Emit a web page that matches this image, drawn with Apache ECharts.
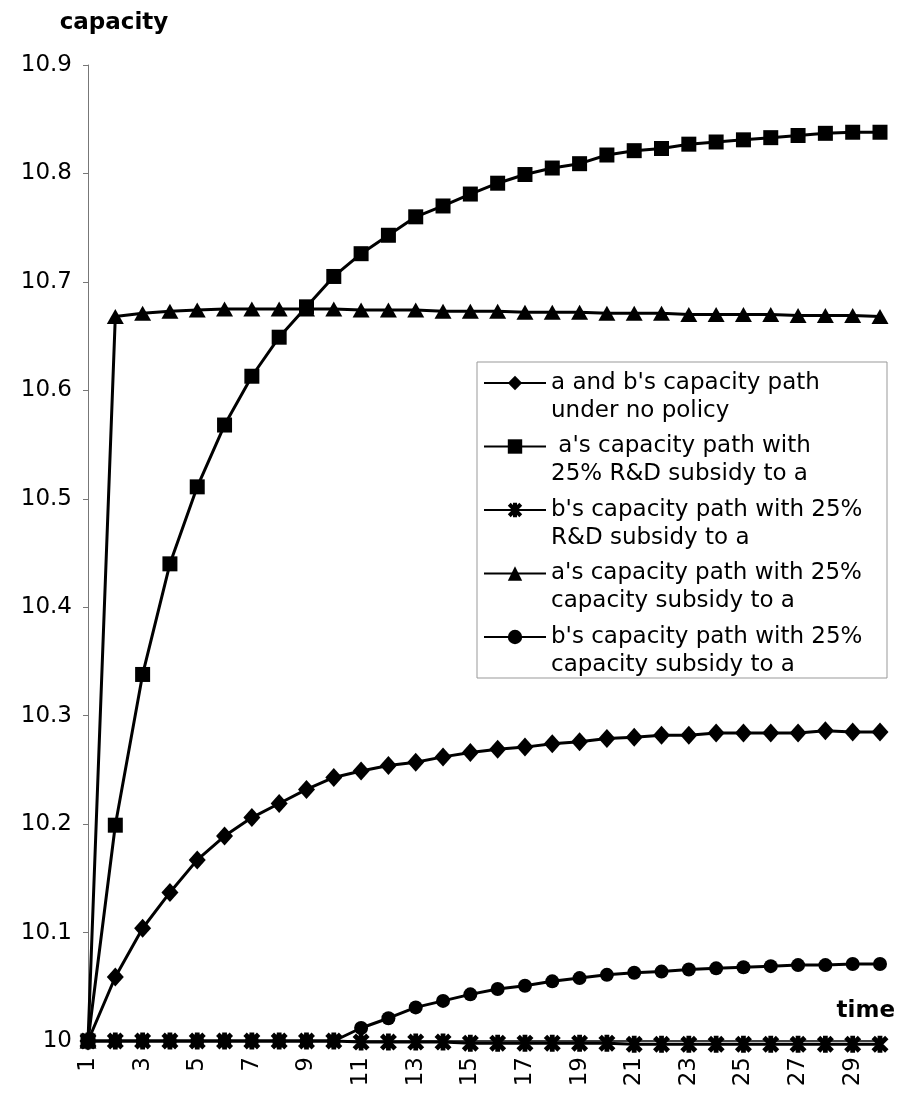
<!DOCTYPE html>
<html>
<head>
<meta charset="utf-8">
<script src="https://cdn.jsdelivr.net/npm/echarts@6/dist/echarts.min.js"></script>
<style>
html,body{margin:0;padding:0;background:#fff;}
#chart{width:904px;height:1104px;}
</style>
</head>
<body>
<div id="chart"></div>
<script>
const timeLabels = ['1','2','3','4','5','6','7','8','9','10','11','12','13','14','15','16','17','18','19','20','21','22','23','24','25','26','27','28','29','30'];

const noPolicy = [10.000, 10.059, 10.104, 10.137, 10.167, 10.189, 10.206, 10.219, 10.232, 10.243, 10.249, 10.254, 10.257, 10.262, 10.266, 10.269, 10.271, 10.274, 10.276, 10.279, 10.280, 10.282, 10.282, 10.284, 10.284, 10.284, 10.284, 10.286, 10.285, 10.285];

const aWithRD = [10.000, 10.199, 10.338, 10.440, 10.511, 10.568, 10.613, 10.649, 10.677, 10.705, 10.726, 10.743, 10.760, 10.770, 10.781, 10.791, 10.799, 10.805, 10.809, 10.817, 10.821, 10.823, 10.827, 10.829, 10.831, 10.833, 10.835, 10.837, 10.838, 10.838];

const bWithRD = [10.000, 10.000, 10.000, 10.000, 10.000, 10.000, 10.000, 10.000, 10.000, 10.000, 9.999, 9.999, 9.999, 9.999, 9.998, 9.998, 9.998, 9.998, 9.998, 9.998, 9.997, 9.997, 9.997, 9.997, 9.997, 9.997, 9.997, 9.997, 9.997, 9.997];

const aWithCap = [10.000, 10.668, 10.671, 10.673, 10.674, 10.675, 10.675, 10.675, 10.675, 10.675, 10.674, 10.674, 10.674, 10.673, 10.673, 10.673, 10.672, 10.672, 10.672, 10.671, 10.671, 10.671, 10.670, 10.670, 10.670, 10.670, 10.669, 10.669, 10.669, 10.668];

const bWithCap = [10.000, 10.000, 10.000, 10.000, 10.000, 10.000, 10.000, 10.000, 10.000, 10.000, 10.012, 10.021, 10.031, 10.037, 10.043, 10.048, 10.051, 10.055, 10.058, 10.061, 10.063, 10.064, 10.066, 10.067, 10.068, 10.069, 10.070, 10.070, 10.071, 10.071];

const seriesNames = [
  "a and b's capacity path\nunder no policy",
  " a's capacity path with\n25% R&D subsidy to a",
  "b's capacity path with 25%\nR&D subsidy to a",
  "a's capacity path with 25%\ncapacity subsidy to a",
  "b's capacity path with 25%\ncapacity subsidy to a"
];

const yAxisName = 'capacity';
const xAxisName = 'time';

const starPath = 'path://M3.6,0L6.4,0L6.4,10L3.6,10Z M0,2L2,0L10,8L8,10Z M8,0L10,2L2,10L0,8Z';

const FONT = 'DejaVu Sans';
const chart = echarts.init(document.getElementById('chart'), null, {renderer: 'canvas'});

function lineSeries(name, data, symbol, size, z) {
  return {
    name: name,
    type: 'line',
    data: data,
    symbol: symbol,
    symbolSize: size,
    showAllSymbol: true,
    clip: false,
    z: z,
    lineStyle: {color: '#000', width: 3},
    itemStyle: {color: '#000', borderWidth: 0},
    emphasis: {disabled: true}
  };
}

chart.setOption({
  animation: false,
  backgroundColor: '#fff',
  grid: {left: 88, right: 24, top: 65, bottom: 63, containLabel: false, outerBoundsMode: 'none'},
  xAxis: {
    type: 'category',
    data: timeLabels,
    boundaryGap: false,
    name: xAxisName,
    nameLocation: 'end',
    nameGap: 15,
    nameTextStyle: {fontFamily: FONT, fontSize: 23, fontWeight: 'bold', color: '#000', align: 'right', verticalAlign: 'bottom', padding: [0, 0, 18, 0]},
    axisLine: {lineStyle: {color: '#000', width: 1.5}},
    axisTick: {show: false},
    axisLabel: {interval: 1, rotate: 90, margin: 16, fontFamily: FONT, fontSize: 23, color: '#000'},
    splitLine: {show: false}
  },
  yAxis: {
    type: 'value',
    min: 10,
    max: 10.9,
    interval: 0.1,
    name: yAxisName,
    nameLocation: 'end',
    nameGap: 30,
    nameTextStyle: {fontFamily: FONT, fontSize: 23, fontWeight: 'bold', color: '#000', align: 'center', padding: [0, 0, 0, 52]},
    axisLine: {show: true, lineStyle: {color: '#777', width: 1}},
    axisTick: {show: true, length: 5, lineStyle: {color: '#777'}},
    axisLabel: {margin: 16, fontFamily: FONT, fontSize: 23, color: '#000',
      formatter: function (v) { return Math.abs(v - 10) < 1e-9 ? '10' : v.toFixed(1); }},
    splitLine: {show: false}
  },
  legend: {
    orient: 'vertical',
    left: 483,
    top: 341,
    padding: 0,
    itemGap: -20.5,
    itemWidth: 62,
    itemHeight: 18,
    selectedMode: false,
    data: seriesNames,
    formatter: function (name) { return '\u00a0\n' + name; },
    textStyle: {fontFamily: FONT, fontSize: 23, lineHeight: 28, color: '#000'}
  },
  graphic: [{
    type: 'rect',
    shape: {x: 477, y: 362, width: 410, height: 316},
    style: {fill: 'none', stroke: '#999', lineWidth: 1},
    silent: true,
    z: 1
  }],
  series: [
    lineSeries(seriesNames[0], noPolicy, 'diamond', [17, 19], 2),
    lineSeries(seriesNames[1], aWithRD, 'rect', 15, 2),
    lineSeries(seriesNames[2], bWithRD, starPath, 17, 4),
    lineSeries(seriesNames[3], aWithCap, 'triangle', [17, 15], 2),
    lineSeries(seriesNames[4], bWithCap, 'circle', 14, 2)
  ]
});
</script>
</body>
</html>
